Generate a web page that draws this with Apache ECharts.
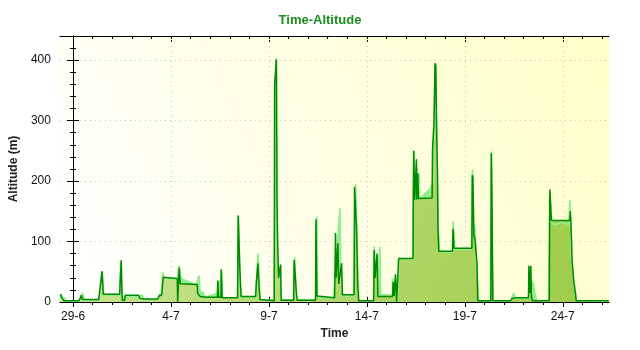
<!DOCTYPE html>
<html>
<head>
<meta charset="utf-8">
<title>Time-Altitude</title>
<script src="https://cdn.jsdelivr.net/npm/echarts@6/dist/echarts.min.js"></script>
<style>
  html, body { margin: 0; padding: 0; background: #ffffff; }
  #chart { width: 640px; height: 350px; }
</style>
</head>
<body>
<div id="chart"></div>
<script>
// Time is counted in days from 29 June 00:00.
const axisMin = -0.67;
const axisMax = 27.36;
const dayTicks = [0, 5, 10, 15, 20, 25];
const dayLabels = ['29-6', '4-7', '9-7', '14-7', '19-7', '24-7'];
const minorDays = [0, 1, 2, 3, 4, 5, 6, 7, 8, 9, 10, 11, 12, 13, 14, 15, 16, 17, 18, 19, 20, 21, 22, 23, 24, 25, 26, 27];

// Recorded altitude (m), stepped track
const altitudeTrack = [
  [-0.65,13],[-0.60,9],[-0.53,8],[-0.47,2],[0.29,2],[0.37,6],[0.42,11],[0.49,4],[1.31,4],[1.34,12],
  [1.49,51],[1.54,13],[2.38,13],[2.46,69],[2.51,3],[2.64,3],[2.66,11],[3.35,11],[3.40,6],[3.61,5],
  [4.32,5],[4.40,10],[4.53,12],[4.60,41],[4.63,39],[5.32,39],[5.34,0],[5.38,0],[5.42,57],[5.47,30],
  [6.34,29],[6.36,14],[6.49,9],[6.77,8],[7.37,8],[7.39,35],[7.43,8],[7.55,8],[7.57,54],[7.61,7],
  [8.40,7],[8.43,143],[8.47,143],[8.51,58],[8.55,28],[8.58,9],[9.32,9],[9.36,34],[9.44,64],[9.47,40],
  [9.54,4],[10.27,2],[10.29,360],[10.38,401],[10.41,172],[10.44,108],[10.49,40],[10.60,62],[10.62,3],
  [11.26,3],[11.29,70],[11.34,73],[11.39,20],[11.44,3],[12.38,3],[12.40,137],[12.45,10],[12.51,7],
  [13.35,7],[13.40,114],[13.43,40],[13.52,97],[13.56,30],[13.71,64],[13.75,12],[14.35,12],[14.37,190],
  [14.45,190],[14.47,125],[14.53,30],[14.58,2],[15.35,2],[15.37,86],[15.42,40],[15.52,80],[15.56,9],
  [16.31,9],[16.34,33],[16.39,10],[16.46,46],[16.52,0],[16.59,0],[16.62,72],[17.36,72],[17.37,170],
  [17.39,250],[17.42,250],[17.44,169],[17.53,236],[17.55,169],[17.60,213],[17.63,171],[18.33,172],
  [18.35,250],[18.43,300],[18.48,395],[18.52,391],[18.56,285],[18.60,219],[18.63,121],[18.67,84],
  [19.37,84],[19.40,121],[19.45,89],[20.36,89],[20.38,210],[20.41,205],[20.46,111],[20.52,103],
  [20.62,64],[20.66,2],[21.33,2],[21.35,246],[21.38,182],[21.43,2],[22.33,2],[22.43,6],[22.59,7],
  [23.25,7],[23.27,60],[23.33,15],[23.37,60],[23.40,10],[23.45,2],[24.31,2],[24.34,186],[24.40,185],
  [24.42,135],[25.36,135],[25.38,150],[25.42,130],[25.48,67],[25.56,34],[25.65,14],[25.68,2],[27.35,2]
];

// GPS altitude (m), raw samples
const gpsAltitude = [
  [-0.65,5],[-0.60,13],[-0.53,3],[-0.45,7],[-0.37,2],[0.29,2],[0.49,14],[0.57,3],[1.31,3],[1.46,50],
  [1.57,12],[2.38,12],[2.43,68],[2.48,5],[2.64,10],[3.35,8],[3.43,5],[3.51,12],[3.61,4],[4.32,4],
  [4.42,14],[4.50,8],[4.58,49],[4.65,40],[4.73,37],[5.32,37],[5.41,60],[5.47,44],[5.55,38],[6.31,28],
  [6.43,44],[6.49,12],[6.62,17],[6.72,8],[7.36,14],[7.42,36],[7.48,8],[7.56,53],[7.64,6],[8.40,7],
  [8.44,143],[8.53,28],[8.61,8],[9.32,8],[9.44,80],[9.50,40],[9.55,3],[10.27,3],[10.37,403],[10.43,60],
  [10.49,61],[10.57,55],[10.62,3],[11.26,3],[11.31,74],[11.39,10],[11.44,3],[12.38,3],[12.45,141],
  [12.48,10],[12.53,6],[13.30,6],[13.43,60],[13.62,155],[13.66,60],[13.71,40],[13.76,10],[14.32,10],
  [14.42,195],[14.47,140],[14.54,36],[14.60,2],[15.34,2],[15.37,92],[15.45,50],[15.60,60],[15.66,91],
  [15.70,12],[16.31,11],[16.32,39],[16.36,12],[16.44,39],[16.49,20],[16.56,3],[16.64,72],[17.33,70],
  [17.41,250],[17.46,170],[17.54,225],[17.58,170],[17.65,213],[17.69,170],[17.74,168],[18.25,188],
  [18.30,190],[18.38,200],[18.40,250],[18.49,393],[18.58,240],[18.60,210],[18.65,122],[18.70,83],
  [19.37,82],[19.40,133],[19.44,130],[19.48,88],[20.34,87],[20.40,219],[20.45,130],[20.51,125],
  [20.60,64],[20.65,30],[20.70,2],[21.31,2],[21.36,249],[21.41,60],[21.44,2],[22.33,2],[22.43,10],
  [22.50,14],[22.56,6],[23.25,6],[23.30,40],[23.40,36],[23.50,30],[23.57,14],[23.66,2],[24.27,2],
  [24.34,180],[24.40,150],[24.45,130],[24.63,128],[24.89,132],[25.14,130],[25.32,128],[25.36,168],
  [25.39,140],[25.44,70],[25.49,60],[25.56,30],[25.65,15],[25.69,2],[27.35,2]
];

const FONT = 'Liberation Sans';
const chart = echarts.init(document.getElementById('chart'), null, { renderer: 'canvas' });

function labelFor(v) {
  const i = dayTicks.indexOf(Math.round(v));
  return i >= 0 ? dayLabels[i] : '';
}

const hiddenX = (extra) => Object.assign({
  type: 'value', min: axisMin, max: axisMax, position: 'bottom',
  axisLine: { show: false }, axisLabel: { show: false }, splitLine: { show: false },
  axisTick: { show: false }
}, extra);

const option = {
  animation: false,
  backgroundColor: '#ffffff',
  textStyle: { fontFamily: FONT },
  title: {
    text: 'Time-Altitude',
    left: 'center',
    top: 9,
    textStyle: { color: '#1e8c1e', fontSize: 13, fontWeight: 'bold', fontFamily: FONT }
  },
  grid: {
    left: 59, right: 31, top: 36, bottom: 48,
    show: true,
    borderWidth: 0,
    backgroundColor: new echarts.graphic.LinearGradient(0, 1, 1, 0, [
      { offset: 0, color: '#ffffff' },
      { offset: 1, color: '#ffffc8' }
    ])
  },
  xAxis: [
    {
      type: 'value', min: axisMin, max: axisMax, position: 'bottom',
      name: 'Time', nameLocation: 'middle', nameGap: 25,
      nameTextStyle: { fontWeight: 'bold', fontSize: 12, color: '#222', fontFamily: FONT },
      axisLine: { show: true, lineStyle: { color: '#000', width: 1 } },
      axisTick: { show: true, length: 5, customValues: dayTicks, lineStyle: { color: '#000' } },
      axisLabel: { customValues: dayTicks, formatter: labelFor, color: '#111', fontSize: 12, margin: 9, fontFamily: FONT },
      splitLine: { show: true, lineStyle: { color: '#c8c8c8', type: [1, 4] } }
    },
    hiddenX({ axisTick: { show: true, inside: true, length: 5, customValues: dayTicks, lineStyle: { color: '#000' } } }),
    hiddenX({ axisTick: { show: true, length: 3, customValues: minorDays, lineStyle: { color: '#000' } } }),
    hiddenX({ position: 'top',
      axisLine: { show: true, lineStyle: { color: '#000', width: 1 } },
      axisTick: { show: true, inside: true, length: 8, customValues: dayTicks, lineStyle: { color: '#000', type: [2, 2] } } }),
    hiddenX({ position: 'top', axisTick: { show: true, inside: true, length: 3, customValues: minorDays, lineStyle: { color: '#000' } } })
  ],
  yAxis: [
    {
      type: 'value', min: 0, max: 440, interval: 100, position: 'left',
      name: 'Altitude (m)', nameLocation: 'middle', nameGap: 38,
      nameTextStyle: { fontWeight: 'bold', fontSize: 12, color: '#222', fontFamily: FONT },
      axisLine: { show: true, lineStyle: { color: '#000', width: 1 } },
      axisTick: { show: true, length: 6, lineStyle: { color: '#000' } },
      minorTick: { show: true, splitNumber: 5, length: 3, lineStyle: { color: '#000' } },
      axisLabel: { color: '#111', fontSize: 12, margin: 9, fontFamily: FONT, showMaxLabel: false },
      splitLine: { show: true, lineStyle: { color: '#c8c8c8', type: [1, 4] } }
    },
    {
      type: 'value', min: 0, max: 440, interval: 100, position: 'left',
      axisLine: { show: false }, axisLabel: { show: false }, splitLine: { show: false },
      axisTick: { show: true, inside: true, length: 6, lineStyle: { color: '#000' } },
      minorTick: { show: true, splitNumber: 5, length: 3, lineStyle: { color: '#000' } }
    },
    {
      type: 'value', min: 0, max: 440, interval: 100, position: 'right',
      axisLine: { show: true, lineStyle: { color: '#000', width: 1 } },
      axisLabel: { show: false }, splitLine: { show: false },
      axisTick: { show: true, inside: true, length: 6, lineStyle: { color: '#000' } },
      minorTick: { show: true, splitNumber: 5, length: 3, lineStyle: { color: '#000' } }
    }
  ],
  series: [
    {
      name: 'GPS fill', type: 'line', data: gpsAltitude, showSymbol: false, silent: true,
      lineStyle: { width: 0 }, areaStyle: { color: '#90ee90', opacity: 1 }
    },
    {
      name: 'Altitude fill', type: 'line', data: altitudeTrack, showSymbol: false, silent: true,
      lineStyle: { width: 0 },
      areaStyle: {
        opacity: 1,
        color: new echarts.graphic.LinearGradient(0, 0, 1, 1, [
          { offset: 0, color: '#d2e9a0' },
          { offset: 1, color: '#9ccb44' }
        ])
      }
    },
    {
      name: 'GPS altitude', type: 'line', data: gpsAltitude, showSymbol: false, silent: true,
      lineStyle: { width: 1.8, color: '#90ee90' }
    },
    {
      name: 'Altitude', type: 'line', data: altitudeTrack, showSymbol: false, silent: true,
      lineStyle: { width: 1.5, color: '#008a00' }
    }
  ]
};

chart.setOption(option);
</script>
</body>
</html>
